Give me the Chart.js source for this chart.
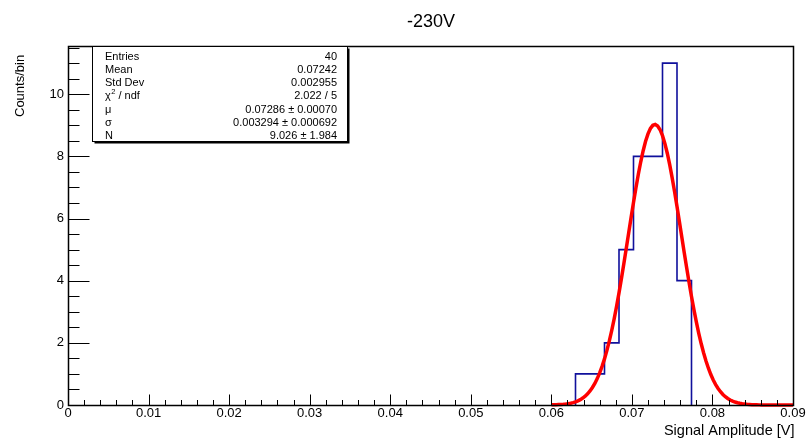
<!DOCTYPE html>
<html>
<head>
<meta charset="utf-8">
<title>-230V</title>
<script src="https://cdn.jsdelivr.net/npm/chart.js@4/dist/chart.umd.min.js"></script>
<style>
  html, body { margin: 0; padding: 0; background: #ffffff; }
  #wrap { width: 809px; height: 442px; }
  canvas { display: block; }
</style>
</head>
<body>
<div id="wrap"><canvas id="chart" width="809" height="442"></canvas></div>
<script>
// ---- data -------------------------------------------------------------
const plotTitle = '-230V';
const xAxisTitle = 'Signal Amplitude [V]';
const yAxisTitle = 'Counts/bin';

// Histogram: 50 bins of 0.0018 V over [0, 0.09]; only these bins hold entries
const binEdges  = [0.063, 0.0648, 0.0666, 0.0684, 0.0702, 0.072, 0.0738, 0.0756, 0.0774];
const binCounts = [1, 1, 2, 5, 8, 8, 11, 4];

// Gaussian fit result (amplitude, mean, sigma) and its drawing range
const fitN = 9.026;
const fitMu = 0.07286;
const fitSigma = 0.003294;
const fitRange = [0.06, 0.09];
const fitPoints = 100;

// Axis ranges and tick labels
const xRange = [0, 0.09];
const yRange = [0, 11.55];
const xTickLabels = ['0', '0.01', '0.02', '0.03', '0.04', '0.05', '0.06', '0.07', '0.08', '0.09'];
const yTickLabels = ['0', '2', '4', '6', '8', '10'];

// Statistics box
const statsLabels = ['Entries', 'Mean', 'Std Dev', 'χ² / ndf', 'μ', 'σ', 'N'];
const statsValues = ['40', '0.07242', '0.002955', '2.022 / 5', '0.07286 ± 0.00070', '0.003294 ± 0.000692', '9.026 ± 1.984'];

// ---- derived series ---------------------------------------------------
function histOutline(edges, counts) {
  const pts = [{ x: edges[0], y: 0 }];
  counts.forEach((c, i) => {
    pts.push({ x: edges[i], y: c });
    pts.push({ x: edges[i + 1], y: c });
  });
  pts.push({ x: edges[edges.length - 1], y: 0 });
  return pts;
}

function gaussCurve(n, mu, sigma, range, count) {
  const pts = [];
  for (let i = 0; i <= count; i++) {
    const x = range[0] + (range[1] - range[0]) * i / count;
    const z = (x - mu) / sigma;
    pts.push({ x: x, y: n * Math.exp(-0.5 * z * z) });
  }
  return pts;
}

// ---- styling ----------------------------------------------------------
const FONT = '"Liberation Sans", Arial, Helvetica, sans-serif';
const xMajorStep = 0.01, xMinorStep = 0.002;
const yMajorStep = 2, yMinorStep = 0.5;

// Frame, inward ticks, titles and the statistics box
const decorations = {
  id: 'decorations',
  afterDatasetsDraw(chart) {
    const ctx = chart.ctx;
    const a = chart.chartArea;
    const xs = chart.scales.x, ys = chart.scales.y;
    const L = Math.round(a.left) + 0.5, R = Math.round(a.right) + 0.5;
    const T = Math.round(a.top) + 0.5, B = Math.round(a.bottom) + 0.5;

    ctx.save();
    ctx.strokeStyle = '#000';
    ctx.lineWidth = 1;

    // x ticks drawn upward from the bottom axis
    ctx.beginPath();
    const nx = Math.round((xRange[1] - xRange[0]) / xMinorStep);
    for (let i = 0; i <= nx; i++) {
      const v = xRange[0] + i * xMinorStep;
      const major = i % Math.round(xMajorStep / xMinorStep) === 0;
      const px = Math.round(xs.getPixelForValue(v)) + 0.5;
      ctx.moveTo(px, B);
      ctx.lineTo(px, B - (major ? 11 : 5.5));
    }
    // y ticks drawn rightward from the left axis
    const ny = Math.floor((yRange[1] - yRange[0]) / yMinorStep + 1e-9);
    for (let i = 0; i <= ny; i++) {
      const v = yRange[0] + i * yMinorStep;
      const major = i % Math.round(yMajorStep / yMinorStep) === 0;
      const py = Math.round(ys.getPixelForValue(v)) + 0.5;
      ctx.moveTo(L, py);
      ctx.lineTo(L + (major ? 21 : 11), py);
    }
    ctx.stroke();

    // frame
    ctx.lineWidth = 1.5;
    ctx.strokeRect(L, T, R - L, B - T);

    // plot title
    ctx.fillStyle = '#000';
    ctx.textBaseline = 'alphabetic';
    ctx.font = '18px ' + FONT;
    ctx.textAlign = 'center';
    ctx.fillText(plotTitle, 431, 27);

    // x axis title, right-aligned at the end of the axis
    ctx.font = '14.5px ' + FONT;
    ctx.textAlign = 'right';
    ctx.fillText(xAxisTitle, R + 1, 435);

    // y axis title, rotated
    ctx.save();
    ctx.translate(24, 117);
    ctx.rotate(-Math.PI / 2);
    ctx.font = '13px ' + FONT;
    ctx.textAlign = 'left';
    ctx.fillText(yAxisTitle, 0, 0);
    ctx.restore();

    // statistics box with shadow
    const bx = 92.5, by = 46.5, bw = 255, bh = 95;
    ctx.fillStyle = '#000';
    ctx.fillRect(bx + 2, by + 2, bw, bh);
    ctx.fillStyle = '#fff';
    ctx.fillRect(bx, by, bw, bh);
    ctx.lineWidth = 1;
    ctx.strokeStyle = '#000';
    ctx.strokeRect(bx, by, bw, bh);

    ctx.fillStyle = '#000';
    ctx.font = '11px ' + FONT;
    const rowStep = 13.3;
    statsLabels.forEach((lab, i) => {
      const y = 59.5 + i * rowStep;
      ctx.textAlign = 'left';
      if (lab.indexOf('²') >= 0) {
        const parts = lab.split('²');
        let x = 105;
        ctx.fillText(parts[0], x, y);
        x += ctx.measureText(parts[0]).width;
        ctx.font = '7.5px ' + FONT;
        ctx.fillText('2', x + 0.5, y - 5);
        x += ctx.measureText('2').width + 0.5;
        ctx.font = '11px ' + FONT;
        ctx.fillText(parts[1], x, y);
      } else {
        ctx.fillText(lab, 105, y);
      }
      ctx.textAlign = 'right';
      ctx.fillText(statsValues[i], 337, y);
    });

    ctx.restore();
  }
};

// ---- chart ------------------------------------------------------------
new Chart(document.getElementById('chart'), {
  type: 'line',
  data: {
    datasets: [
      {
        label: 'gaus',
        data: gaussCurve(fitN, fitMu, fitSigma, fitRange, fitPoints),
        borderColor: '#ff0000',
        borderWidth: 3.5,
        pointRadius: 0,
        tension: 0,
        fill: false,
        clip: 6,
        order: 0
      },
      {
        label: 'histogram',
        data: histOutline(binEdges, binCounts),
        borderColor: '#10109c',
        borderWidth: 1.6,
        pointRadius: 0,
        tension: 0,
        fill: false,
        clip: 2,
        order: 1
      }
    ]
  },
  options: {
    responsive: false,
    animation: false,
    events: [],
    parsing: true,
    layout: { padding: { top: 46, right: 16, left: 0, bottom: 0 } },
    plugins: {
      legend: { display: false },
      tooltip: { enabled: false },
      title: { display: false }
    },
    scales: {
      x: {
        type: 'linear',
        min: xRange[0],
        max: xRange[1],
        grid: { display: false, drawTicks: false },
        border: { display: false },
        ticks: {
          stepSize: xMajorStep,
          autoSkip: false,
          maxRotation: 0,
          padding: 1,
          color: '#000',
          font: { family: FONT, size: 13 },
          callback: (v) => {
            const i = Math.round((v - xRange[0]) / xMajorStep);
            return xTickLabels[i] !== undefined ? xTickLabels[i] : '';
          }
        },
        afterFit: (s) => { s.height = 37; }
      },
      y: {
        type: 'linear',
        min: yRange[0],
        max: yRange[1],
        grid: { display: false, drawTicks: false },
        border: { display: false },
        ticks: {
          stepSize: yMajorStep,
          includeBounds: false,
          padding: 4,
          color: '#000',
          font: { family: FONT, size: 13 },
          callback: (v) => {
            const i = Math.round((v - yRange[0]) / yMajorStep);
            return yTickLabels[i] !== undefined ? yTickLabels[i] : '';
          }
        },
        afterFit: (s) => { s.width = 68; }
      }
    }
  },
  plugins: [decorations]
});
</script>
</body>
</html>
